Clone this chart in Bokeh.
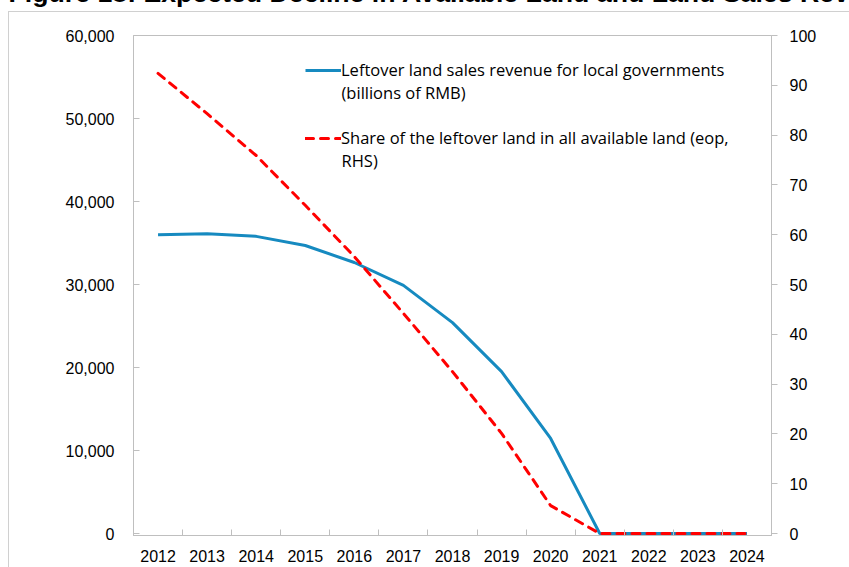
from bokeh.plotting import figure
from bokeh.models import (LinearAxis, Range1d, FixedTicker, NumeralTickFormatter,
                          Legend, LegendItem, Label, ColumnDataSource)
from bokeh.embed import file_html
from bokeh.resources import INLINE

# ---- data ----
years = [2012, 2013, 2014, 2015, 2016, 2017, 2018, 2019, 2020, 2021, 2022, 2023, 2024]
year_labels = [str(y) for y in years]
revenue = [36000, 36100, 35800, 34700, 32650, 29900, 25400, 19500, 11450, 0, 0, 0, 0]
share = [92.4, 84.3, 75.9, 65.9, 55.6, 44.2, 32.5, 20.1, 5.6, 0, 0, 0, 0]
left_ticks = [0, 10000, 20000, 30000, 40000, 50000, 60000]
right_ticks = [0, 10, 20, 30, 40, 50, 60, 70, 80, 90, 100]
title_text = "Figure 18: Expected Decline in Available Land and Land Sales Revenue"
legend_rev = ["Leftover land sales revenue for local governments", "(billions of RMB)"]
legend_share = ["Share of the leftover land in all available land (eop,", "RHS)"]

# ---- layout ----
K = 55                  # canvas rows hidden above the window (title is cut off there)
W, H = 849, 567 + K
FL, FR, FT = 133, 771, 35 + K
ZERO_Y = 533 + K        # pixel row of the value 0
FB = 535 + K            # frame bottom (a little below 0 so the zero line is not clipped)
AXC = "#BFBFBF"
BOXC = "#D0D0D0"
TICK_FONT = "Liberation Sans"
TICK_SIZE = "16px"
LEG_FONT = "Open Sans"
LEG_SIZE = "16.5px"

pad = (FB - ZERO_Y) / (ZERO_Y - FT)   # fraction of the value span below 0
l_lo = left_ticks[0] - pad * (left_ticks[-1] - left_ticks[0])
r_lo = right_ticks[0] - pad * (right_ticks[-1] - right_ticks[0])

p = figure(width=W, height=H, output_backend="svg", toolbar_location=None,
           x_range=Range1d(years[0] - 0.5, years[-1] + 0.5),
           y_range=Range1d(l_lo, left_ticks[-1]),
           x_axis_type=None, y_axis_type=None,
           min_border_left=FL, min_border_right=W - FR,
           min_border_top=FT, min_border_bottom=H - FB)
p.extra_y_ranges = {"r": Range1d(r_lo, right_ticks[-1])}
p.xgrid.visible = False
p.ygrid.visible = False
p.outline_line_color = AXC
p.background_fill_color = "white"
p.border_fill_alpha = 0
# outer chart-area border (left and top edges) painted behind the transparent canvas
p.styles = {
    "margin-top": f"-{K}px",
    "background": (f"linear-gradient({BOXC},{BOXC}) 8px {11 + K}px / 1px 100% no-repeat, "
                   f"linear-gradient({BOXC},{BOXC}) 8px {11 + K}px / 100% 1px no-repeat, "
                   "#FFFFFF"),
}

# title (mostly above the visible window, as in the reference)
p.title.text = title_text
p.title.align = "left"
p.title.vertical_align = "bottom"
p.title.offset = 8 - FL
p.title.standoff = 56
p.title.text_font = "Liberation Sans"
p.title.text_font_style = "bold"
p.title.text_font_size = "26.7px"
p.title.text_color = "black"

# x axis: labels at category centres, tick marks between categories
xaxis = LinearAxis(ticker=FixedTicker(ticks=years,
                                      minor_ticks=[y - 0.5 for y in years] + [years[-1] + 0.5]),
                   major_label_overrides={y: s for y, s in zip(years, year_labels)})
xaxis.major_tick_in = 0
xaxis.major_tick_out = 0
xaxis.minor_tick_in = 6
xaxis.minor_tick_out = 0
xaxis.minor_tick_line_color = AXC
xaxis.axis_line_color = AXC
xaxis.major_label_standoff = 14
p.add_layout(xaxis, "below")

yl = LinearAxis(ticker=FixedTicker(ticks=left_ticks),
                formatter=NumeralTickFormatter(format="0,0"))
yl.major_tick_in = 6
yl.major_tick_out = 0
yl.minor_tick_line_color = None
yl.axis_line_color = AXC
yl.major_tick_line_color = AXC
yl.major_label_standoff = 19
p.add_layout(yl, "left")

yr = LinearAxis(y_range_name="r", ticker=FixedTicker(ticks=right_ticks))
yr.major_tick_in = 0
yr.major_tick_out = 6
yr.minor_tick_line_color = None
yr.axis_line_color = AXC
yr.major_tick_line_color = AXC
yr.major_label_standoff = 12
p.add_layout(yr, "right")

for ax in (xaxis, yl, yr):
    ax.major_label_text_font = TICK_FONT
    ax.major_label_text_font_size = TICK_SIZE
    ax.major_label_text_color = "black"

src = ColumnDataSource(dict(year=years, revenue=revenue, share=share))
r1 = p.line("year", "revenue", source=src, line_color="#168AC0", line_width=3)
r2 = p.line("year", "share", source=src, y_range_name="r", line_color="#FF0000",
            line_width=3, line_dash="8 7", line_cap="round")

legend = Legend(items=[LegendItem(label=legend_rev[0], renderers=[r1]),
                       LegendItem(label=legend_share[0], renderers=[r2])],
                location=(172, 386), padding=0, margin=0, spacing=45,
                label_height=20, glyph_height=20, glyph_width=36, label_standoff=0,
                border_line_color=None, background_fill_alpha=0,
                label_text_font=LEG_FONT, label_text_font_size=LEG_SIZE,
                label_text_color="black")
p.add_layout(legend)

for txt, yy in ((legend_rev[1], FB - K - 92), (legend_share[1], FB - K - 160)):
    p.add_layout(Label(x=208, y=yy, x_units="screen", y_units="screen", text=txt,
                       text_font=LEG_FONT, text_font_size=LEG_SIZE, text_color="black",
                       text_baseline="middle", text_align="left"))

open("out.html", "w").write(file_html(p, INLINE))
